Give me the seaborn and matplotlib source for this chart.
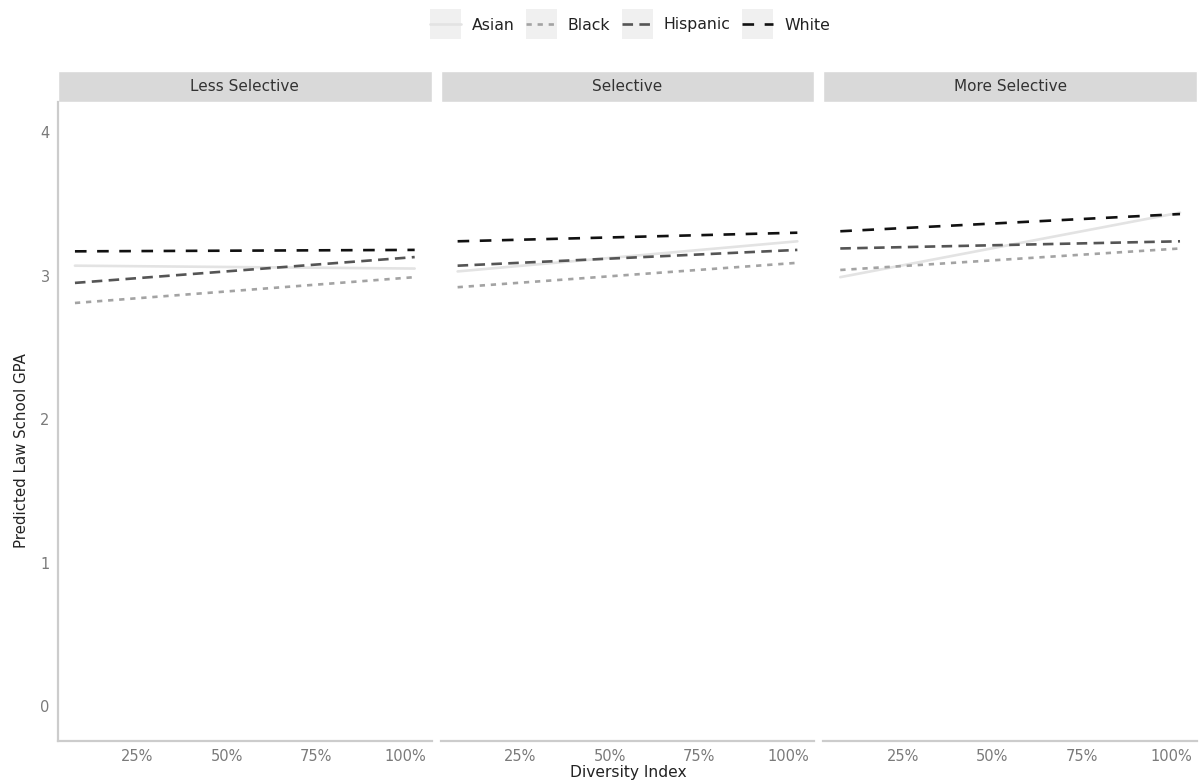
import matplotlib
matplotlib.use("Agg")
import matplotlib.pyplot as plt
from matplotlib.lines import Line2D
from matplotlib.patches import Rectangle
from matplotlib.legend_handler import HandlerLine2D
import numpy as np
import pandas as pd
import seaborn as sns

# ---- data -------------------------------------------------------------
panels = ["Less Selective", "Selective", "More Selective"]
groups = ["Asian", "Black", "Hispanic", "White"]
diversity = [0.075, 1.025]          # endpoints of the fitted lines
asian = [[3.07, 3.05], [3.03, 3.24], [2.99, 3.44]]
black = [[2.81, 2.99], [2.92, 3.09], [3.04, 3.19]]
hispanic = [[2.95, 3.13], [3.07, 3.18], [3.19, 3.24]]
white = [[3.17, 3.18], [3.24, 3.30], [3.31, 3.43]]
x_ticks = [0.25, 0.50, 0.75, 1.00]
x_tick_labels = ["25%", "50%", "75%", "100%"]
y_ticks = [0, 1, 2, 3, 4]

series = dict(zip(groups, [asian, black, hispanic, white]))
rows = []
for g_name, vals in series.items():
    for p_idx, p_name in enumerate(panels):
        for xv, yv in zip(diversity, vals[p_idx]):
            rows.append({"Selectivity": p_name, "Race": g_name,
                         "Diversity": xv, "GPA": yv})
df = pd.DataFrame(rows)

# ---- style ------------------------------------------------------------
sns.set_theme(style="white")
plt.rcParams["font.family"] = ["DejaVu Sans"]

palette = {"Asian": "#e3e3e3", "Black": "#a3a3a3",
           "Hispanic": "#555555", "White": "#111111"}
dashes = {"Asian": "", "Black": (2.0, 2.2),
          "Hispanic": (4.0, 2.4), "White": (4.4, 4.0)}
LW = 1.9

g = sns.relplot(data=df, x="Diversity", y="GPA", hue="Race", style="Race",
                col="Selectivity", col_order=panels, hue_order=groups,
                kind="line", palette=palette, dashes=dashes, linewidth=LW,
                legend=False, height=5, aspect=0.8)

fig = g.figure
fig.set_size_inches(12, 7.83)
fig.subplots_adjust(left=0.0483, right=0.9975, bottom=0.0536, top=0.8697,
                    wspace=0.024)

tick_col = "#7a7a7a"
for i, (ax, name) in enumerate(zip(g.axes.flat, panels)):
    ax.set_xlim(0.0275, 1.0725)
    ax.set_ylim(-0.244, 4.211)
    ax.set_xticks(x_ticks)
    ax.set_xticklabels(x_tick_labels)
    ax.set_yticks(y_ticks)
    ax.set_title("")
    ax.set_xlabel("")
    ax.set_ylabel("")
    ax.tick_params(length=0, labelcolor=tick_col, labelsize=10.5, pad=6)
    for s in ["top", "right"]:
        ax.spines[s].set_visible(False)
    ax.spines["bottom"].set_color("#cccccc")
    ax.spines["bottom"].set_linewidth(1.6)
    if i == 0:
        ax.spines["left"].set_color("#cccccc")
        ax.spines["left"].set_linewidth(1.6)
    else:
        ax.spines["left"].set_visible(False)
    ax.grid(False)
    # facet strip
    ax.add_patch(Rectangle((0, 1.0), 1, 0.0485, transform=ax.transAxes,
                           clip_on=False, facecolor="#d9d9d9",
                           edgecolor="white", linewidth=1.0))
    ax.text(0.5, 1.0 + 0.0485 / 2, name, transform=ax.transAxes,
            ha="center", va="center", fontsize=11, color="#333333")

fig.text(0.018, 0.425, "Predicted Law School GPA", rotation=90,
         ha="center", va="center", fontsize=10.8, color="#222222")
fig.text(0.524, 0.0128, "Diversity Index", ha="center", va="center",
         fontsize=11.2, color="#222222")


class KeyHandler(HandlerLine2D):
    """Legend key drawn on a light grey tile, like a ggplot key."""

    def create_artists(self, legend, orig_handle, xdescent, ydescent,
                       width, height, fontsize, trans):
        tile = Rectangle((-xdescent, -ydescent + height / 2 - 10.8),
                         width, 21.6, facecolor="#f0f0f0",
                         edgecolor="none", transform=trans)
        arts = super().create_artists(legend, orig_handle, xdescent,
                                      ydescent, width, height, fontsize,
                                      trans)
        return [tile] + list(arts)


handles = []
for name in groups:
    h = Line2D([], [], color=palette[name], linewidth=LW)
    if dashes[name]:
        h.set_dashes(dashes[name])
    handles.append(h)

fig.legend(handles, groups, loc="center",
           bbox_to_anchor=(0.525, 1 - 25 / 783),
           ncol=4, frameon=False, handler_map={Line2D: KeyHandler()},
           handlelength=1.95, handletextpad=0.7, columnspacing=0.75,
           fontsize=11.3, labelcolor="#222222")

fig.savefig("out.png", dpi=100)
